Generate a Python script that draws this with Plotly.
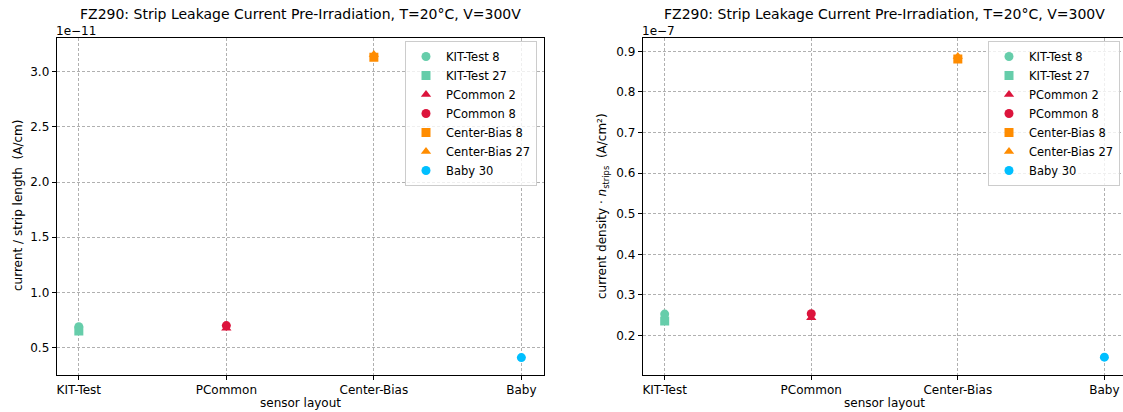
import plotly.graph_objects as go

W, H = 1123, 412

categories = ["KIT-Test", "PCommon", "Center-Bias", "Baby"]
series_names = ["KIT-Test 8", "KIT-Test 27", "PCommon 2", "PCommon 8",
                "Center-Bias 8", "Center-Bias 27", "Baby 30"]
series_layout = ["KIT-Test", "KIT-Test", "PCommon", "PCommon",
                 "Center-Bias", "Center-Bias", "Baby"]
# current / strip length, in A/cm
left_values = [0.69e-11, 0.65e-11, 0.675e-11, 0.70e-11, 3.13e-11, 3.155e-11, 0.41e-11]
left_errors = [0.02e-11, 0.02e-11, 0.02e-11, 0.02e-11, 0.02e-11, 0.02e-11, 0.01e-11]
# current density * n_strips, in A/cm^2
right_values = [0.253e-7, 0.236e-7, 0.244e-7, 0.254e-7, 0.881e-7, 0.887e-7, 0.147e-7]
right_errors = [0.005e-7, 0.005e-7, 0.005e-7, 0.005e-7, 0.005e-7, 0.005e-7, 0.003e-7]

left_scale = 1e-11
right_scale = 1e-7
left_ticks = [0.5, 1.0, 1.5, 2.0, 2.5, 3.0]
right_ticks = [0.2, 0.3, 0.4, 0.5, 0.6, 0.7, 0.8, 0.9]

colors = {"KIT-Test": "#66cdaa", "PCommon": "#dc143c",
          "Center-Bias": "#ff8c00", "Baby": "#00bfff"}
symbols = ["circle", "square", "triangle-up", "circle", "square", "triangle-up", "circle"]

title_text = "FZ290: Strip Leakage Current Pre-Irradiation, T=20°C, V=300V"
FONT = "DejaVu Sans"

fig = go.Figure()

def px_x(p):
    return p / W

def px_y(p):
    return 1 - p / H

for i, name in enumerate(series_names):
    c = colors[series_layout[i]]
    fig.add_trace(go.Scatter(
        x=[series_layout[i]], y=[left_values[i] / left_scale],
        error_y=dict(type="data", array=[left_errors[i] / left_scale],
                     color=c, thickness=1.5, width=0),
        mode="markers", name=name,
        marker=dict(symbol=symbols[i], color=c, size=9, line=dict(width=0)),
        xaxis="x", yaxis="y", legend="legend"))
for i, name in enumerate(series_names):
    c = colors[series_layout[i]]
    fig.add_trace(go.Scatter(
        x=[series_layout[i]], y=[right_values[i] / right_scale],
        error_y=dict(type="data", array=[right_errors[i] / right_scale],
                     color=c, thickness=1.5, width=0),
        mode="markers", name=name,
        marker=dict(symbol=symbols[i], color=c, size=9, line=dict(width=0)),
        xaxis="x2", yaxis="y2", legend="legend2"))

ydom = [px_y(375), px_y(37.5)]
common_axis = dict(showline=True, linecolor="black", linewidth=1, mirror=True,
                   ticks="outside", ticklen=4, tickcolor="black",
                   showgrid=True, gridcolor="#b0b0b0", griddash="3px,2px", gridwidth=0.8,
                   zeroline=False, tickfont=dict(family=FONT, size=12, color="black"))

legend_common = dict(xanchor="right", yanchor="top",
                     bgcolor="rgba(255,255,255,0.8)", bordercolor="#cccccc", borderwidth=1,
                     font=dict(family=FONT, size=11.5), tracegroupgap=0, itemwidth=30)

fig.update_layout(
    width=W, height=H, margin=dict(l=0, r=0, t=0, b=0),
    plot_bgcolor="white", paper_bgcolor="white",
    font=dict(family=FONT, size=12, color="black"),
    showlegend=True,
    xaxis=dict(domain=[px_x(56.7), px_x(543.5)], type="category",
               categoryorder="array", categoryarray=categories,
               range=[-0.15, 3.15], anchor="y", **common_axis),
    yaxis=dict(domain=ydom, range=[0.252, 3.31], tickvals=left_ticks,
               ticktext=[f"{v:.1f}" for v in left_ticks], anchor="x", **common_axis),
    xaxis2=dict(domain=[px_x(642.7), 1.0], type="category",
                categoryorder="array", categoryarray=categories,
                range=[-0.15, 3.127], anchor="y2", **common_axis),
    yaxis2=dict(domain=ydom, range=[0.103, 0.934], tickvals=right_ticks,
                ticktext=[f"{v:.1f}" for v in right_ticks], anchor="x2", **common_axis),
    legend=dict(x=px_x(537), y=px_y(41), **legend_common),
    legend2=dict(x=px_x(1120), y=px_y(41), **legend_common),
)

annots = [
    dict(text=title_text, x=px_x(300), y=px_y(14), font=dict(size=14)),
    dict(text=title_text, x=px_x(884), y=px_y(14), font=dict(size=14)),
    dict(text="1e−11", x=px_x(54), y=px_y(31), xanchor="left", font=dict(size=12)),
    dict(text="1e−7", x=px_x(640), y=px_y(31), xanchor="left", font=dict(size=12)),
    dict(text="sensor layout", x=px_x(300), y=px_y(403), font=dict(size=12)),
    dict(text="sensor layout", x=px_x(884), y=px_y(403), font=dict(size=12)),
    dict(text="current / strip length  (A/cm)", x=px_x(18), y=px_y(206), textangle=-90,
         font=dict(size=12)),
    dict(text="current density · <i>n</i><sub>strips</sub>  (A/cm²)", x=px_x(603), y=px_y(206),
         textangle=-90, font=dict(size=12)),
]
for a in annots:
    a.setdefault("xref", "paper")
    a.setdefault("yref", "paper")
    a.setdefault("showarrow", False)
    a.setdefault("xanchor", "center")
    a.setdefault("yanchor", "middle")
    a["font"].setdefault("family", FONT)
    a["font"].setdefault("color", "black")
    fig.add_annotation(**a)

fig.write_html("out.html")
